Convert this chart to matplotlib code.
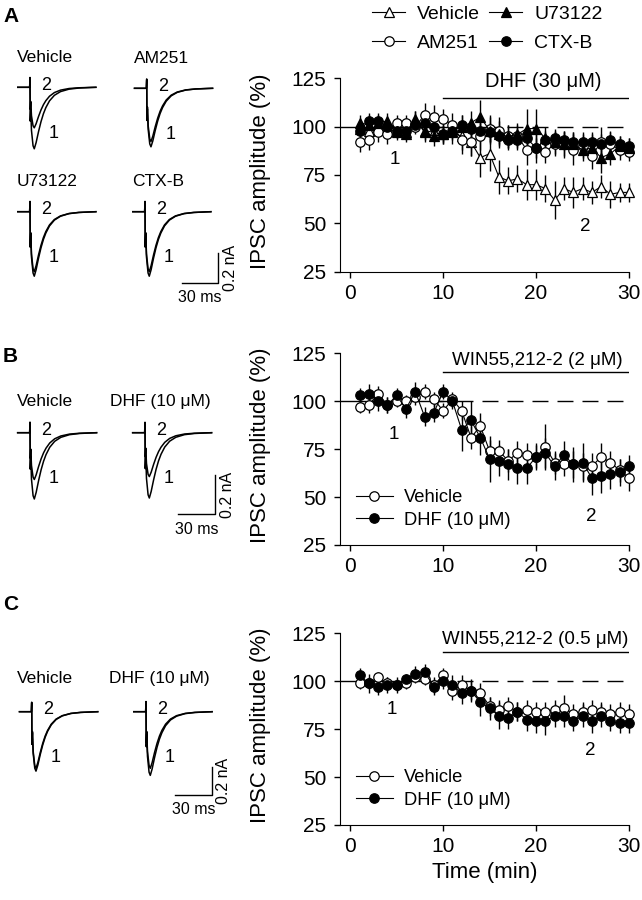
# IPSC amplitude time courses with example traces (panels A-C)
import numpy as np
import matplotlib
matplotlib.use('Agg')
import matplotlib.pyplot as plt
from matplotlib.lines import Line2D

plt.rcParams['font.family'] = ['Liberation Sans', 'DejaVu Sans']

minutes = np.arange(1, 31)

# ---- panel A: DHF (30 uM) ----
a_vehicle = [99, 98, 100, 99, 97, 97, 103, 98, 97, 96, 97, 95, 92, 84, 86, 74, 72, 73, 70, 70,
             68, 62, 68, 66, 68, 66, 69, 65, 66, 66]
a_vehicle_err = [4, 4, 4, 4, 4, 4, 5, 5, 5, 5, 6, 7, 7, 10, 9, 9, 7, 7, 8, 8, 7, 10, 6, 8, 6, 6, 6, 7, 5, 5]
a_am251 = [92, 93, 97, 96, 102, 102, 100, 106, 105, 104, 101, 93, 92, 95, 99, 98, 95, 95, 88, 89,
           87, 91, 91, 88, 90, 85, 92, 91, 88, 87]
a_am251_err = [5, 5, 5, 5, 4, 4, 4, 6, 6, 5, 6, 7, 7, 7, 7, 7, 6, 6, 8, 8, 6, 6, 7, 8, 6, 7, 8, 6, 5, 5]
a_u73122 = [102, 101, 102, 103, 98, 96, 104, 97, 95, 96, 98, 100, 102, 105, 98, 96, 95, 96, 99, 99,
            94, 92, 91, 91, 88, 89, 84, 86, 90, 89]
a_u73122_err = [4, 5, 4, 4, 4, 4, 4, 5, 5, 5, 5, 6, 6, 9, 7, 7, 6, 6, 10, 10, 6, 6, 6, 6, 6, 7, 8, 6, 5, 5]
a_ctxb = [98, 103, 103, 100, 98, 98, 101, 102, 100, 96, 98, 101, 99, 98, 97, 95, 93, 93, 94, 89,
          93, 94, 93, 92, 92, 92, 91, 93, 91, 90]
a_ctxb_err = [3, 4, 4, 4, 4, 3, 4, 4, 4, 4, 4, 5, 5, 5, 5, 5, 5, 5, 5, 5, 5, 5, 5, 5, 5, 5, 5, 5, 4, 4]

# ---- panel B: WIN55,212-2 (2 uM) ----
b_vehicle = [97, 98, 104, 98, 100, 100, 102, 105, 101, 95, 101, 95, 81, 87, 74, 74, 69, 73, 72, 71,
             76, 68, 67, 67, 66, 66, 71, 68, 64, 60]
b_vehicle_err = [3, 4, 4, 4, 3, 3, 4, 4, 4, 4, 4, 5, 6, 7, 6, 6, 6, 6, 6, 6, 12, 6, 6, 7, 7, 7, 7, 6, 6, 7]
b_dhf = [103, 104, 100, 98, 103, 96, 105, 92, 94, 105, 100, 85, 90, 81, 70, 69, 67, 65, 65, 71,
         73, 66, 72, 67, 68, 60, 61, 62, 63, 66]
b_dhf_err = [4, 5, 5, 4, 4, 5, 5, 5, 5, 4, 4, 11, 10, 9, 12, 8, 8, 8, 8, 7, 8, 7, 7, 9, 10, 9, 9, 8, 7, 6]

# ---- panel C: WIN55,212-2 (0.5 uM) ----
c_vehicle = [99, 99, 102, 99, 98, 99, 102, 101, 98, 103, 95, 98, 95, 94, 87, 85, 87, 84, 85, 84,
             84, 85, 86, 83, 84, 85, 84, 83, 84, 83]
c_vehicle_err = [3, 3, 3, 3, 3, 3, 3, 3, 4, 4, 5, 5, 5, 5, 5, 5, 5, 5, 5, 5, 5, 5, 7, 5, 5, 5, 5, 5, 5, 5]
c_dhf = [103, 99, 97, 98, 98, 101, 104, 105, 97, 100, 98, 94, 95, 89, 86, 82, 81, 84, 80, 79,
         79, 82, 82, 79, 82, 79, 82, 79, 78, 78]
c_dhf_err = [4, 5, 4, 4, 4, 3, 4, 4, 4, 4, 5, 6, 6, 7, 6, 7, 6, 5, 6, 6, 7, 6, 6, 5, 6, 6, 6, 5, 5, 5]

# ---- example IPSC traces: time after stimulus (ms) and shape relative to peak ----
trace_t = [-10, -0.3, 0.0, 0.2, 0.6, 1.2, 2.5, 3.5, 5, 7, 9, 11, 13, 16, 20, 25, 32, 40, 50, 54]
trace_shape = [0, 0, 0.16, -0.55, -0.35, -0.7, -0.95, -1.0, -0.9, -0.72, -0.56, -0.43, -0.33,
               -0.22, -0.13, -0.07, -0.03, -0.012, -0.003, 0]
# peak amplitudes (nA) of trace 1 and trace 2
amp_a = {'Vehicle': [0.41, 0.27], 'AM251': [0.39, 0.355], 'U73122': [0.43, 0.40], 'CTX-B': [0.43, 0.40]}
amp_b = {'Vehicle': [0.34, 0.24], 'DHF (10 μM)': [0.335, 0.225]}
amp_c = {'Vehicle': [0.42, 0.40], 'DHF (10 μM)': [0.45, 0.40]}

fig = plt.figure(figsize=(6.42, 9), dpi=100)

# overlay in pixel units for the traces on the left
ov = fig.add_axes([0, 0, 1, 1])
ov.set_xlim(0, 642)
ov.set_ylim(900, 0)
ov.axis('off')


def draw_trace(x0, y0, amps, px_ms, px_na):
    t = np.array(trace_t)
    s = np.array(trace_shape)
    for a in amps:
        ov.plot(x0 + t * px_ms, y0 - s * a * px_na, color='k', lw=1.1)
    ov.text(x0 + 11, y0 - 2, '2', fontsize=13, ha='left', va='center')
    ov.text(x0 + 19, y0 + 46, '1', fontsize=13, ha='left', va='center')


def scale_bar(xc, yc, px_ms, px_na):
    ov.plot([xc - 30 * px_ms, xc, xc], [yc, yc, yc - 0.2 * px_na], color='k', lw=1)
    ov.text(xc - 15 * px_ms, yc + 15, '30 ms', fontsize=11.5, ha='center', va='center')
    ov.text(xc + 12, yc - 0.1 * px_na, '0.2 nA', fontsize=11.5, ha='center', va='center', rotation=90)


# panel A traces
pa = (36.6 / 30, 30 / 0.2)
for (name, amps), (x0, y0) in zip(amp_a.items(), [(30, 87.3), (146.7, 88.3), (30, 211.7), (145, 211.7)]):
    draw_trace(x0, y0, amps, *pa)
    ov.text(x0 - 13, y0 - 30, name, fontsize=12.5, ha='left', va='center')
scale_bar(218.3, 283, *pa)

# panel B traces
pb = (37 / 30, 39 / 0.2)
for (name, amps), (x0, y0) in zip(amp_b.items(), [(30, 432.7), (145, 432.7)]):
    draw_trace(x0, y0, amps, *pb)
    ov.text(x0 - 13 - (22 if name != 'Vehicle' else 0), y0 - 31, name, fontsize=12.5, ha='left', va='center')
scale_bar(215, 514.3, *pb)

# panel C traces
pc = (36.7 / 30, 28.3 / 0.2)
for (name, amps), (x0, y0) in zip(amp_c.items(), [(31.7, 711.7), (146, 711.7)]):
    draw_trace(x0, y0, amps, *pc)
    ov.text(x0 - 14.7 - (22 if name != 'Vehicle' else 0), y0 - 33.4, name, fontsize=12.5, ha='left', va='center')
scale_bar(211.7, 795, *pc)

for lab, (x, y) in zip('ABC', [(3, 16), (3, 356.5), (3, 604.5)]):
    ov.text(x, y, lab, fontsize=15, fontweight='bold', ha='left', va='center')


def style(ax):
    ax.set_xlim(-1.1, 30)
    ax.set_ylim(25, 125)
    ax.spines['top'].set_visible(False)
    ax.spines['right'].set_visible(False)
    ax.set_xticks([0, 10, 20, 30])
    ax.set_yticks([25, 50, 75, 100, 125])
    ax.tick_params(direction='out', length=4, width=1, labelsize=15)
    ax.tick_params(axis='y', pad=6)
    ax.tick_params(axis='x', pad=5)
    ax.set_ylabel('IPSC amplitude (%)', fontsize=16)
    ax.yaxis.set_label_coords(-0.24, 0.52)
    ax.plot([-1.1, 10], [100, 100], color='k', lw=1, zorder=1)
    ax.plot([8.8, 30], [100, 100], color='k', lw=1, dashes=(11.5, 6.5), zorder=1)
    ax.plot([10, 30], [115, 115], color='k', lw=1)


def series(ax, y, err, marker, face):
    c = ax.errorbar(minutes, y, yerr=err, color='k', marker=marker, ms=6.8, mfc=face, mec='k',
                    mew=0.9, lw=0.8, elinewidth=1.0, capsize=0, zorder=3)
    for art in c.get_children():
        art.set_clip_on(False)


W, H = 642, 900
axA = fig.add_axes([340 / W, 1 - 271.7 / H, 289 / W, 193.4 / H])
axB = fig.add_axes([340 / W, 1 - 545 / H, 289 / W, 191.7 / H])
axC = fig.add_axes([340 / W, 1 - 825 / H, 289 / W, 191.7 / H])
for ax in (axA, axB, axC):
    style(ax)

series(axA, a_vehicle, a_vehicle_err, '^', 'white')
series(axA, a_am251, a_am251_err, 'o', 'white')
series(axA, a_u73122, a_u73122_err, '^', 'black')
series(axA, a_ctxb, a_ctxb_err, 'o', 'black')
axA.text(20.8, 123.3, 'DHF (30 μM)', fontsize=14.5, ha='center', va='center')
axA.text(4.8, 83.1, '1', fontsize=13.5, ha='center', va='center')
axA.text(25.3, 48.6, '2', fontsize=13.5, ha='center', va='center')

series(axB, b_vehicle, b_vehicle_err, 'o', 'white')
series(axB, b_dhf, b_dhf_err, 'o', 'black')
axB.text(20.1, 121.5, 'WIN55,212-2 (2 μM)', fontsize=13.5, ha='center', va='center')
axB.text(4.7, 82.4, '1', fontsize=13.5, ha='center', va='center')
axB.text(25.9, 39.8, '2', fontsize=13.5, ha='center', va='center')

series(axC, c_vehicle, c_vehicle_err, 'o', 'white')
series(axC, c_dhf, c_dhf_err, 'o', 'black')
axC.text(19.9, 122, 'WIN55,212-2 (0.5 μM)', fontsize=13.5, ha='center', va='center')
axC.text(4.45, 85, '1', fontsize=13.5, ha='center', va='center')
axC.text(25.8, 64.1, '2', fontsize=13.5, ha='center', va='center')
axC.set_xlabel('Time (min)', fontsize=16)


def handle(marker, face):
    return Line2D([], [], color='k', lw=0.8, marker=marker, ms=6.8, mfc=face, mec='k', mew=0.9)


fig.legend([handle('^', 'white'), handle('o', 'white'), handle('^', 'black'), handle('o', 'black')],
           ['Vehicle', 'AM251', 'U73122', 'CTX-B'], ncol=2, loc='upper left',
           bbox_to_anchor=(372 / W, 1 - 5 / H), frameon=False, fontsize=14, borderpad=0,
           borderaxespad=0, handlelength=1.7, handletextpad=0.6, columnspacing=0.5, labelspacing=0.6)
for ax in (axB, axC):
    ax.legend([handle('o', 'white'), handle('o', 'black')], ['Vehicle', 'DHF (10 μM)'],
              loc='lower left', bbox_to_anchor=(0.055, 0.085), frameon=False, fontsize=13.2,
              borderpad=0, borderaxespad=0, handlelength=2.0, handletextpad=0.6, labelspacing=0.3)

plt.savefig('out.png', dpi=100)
